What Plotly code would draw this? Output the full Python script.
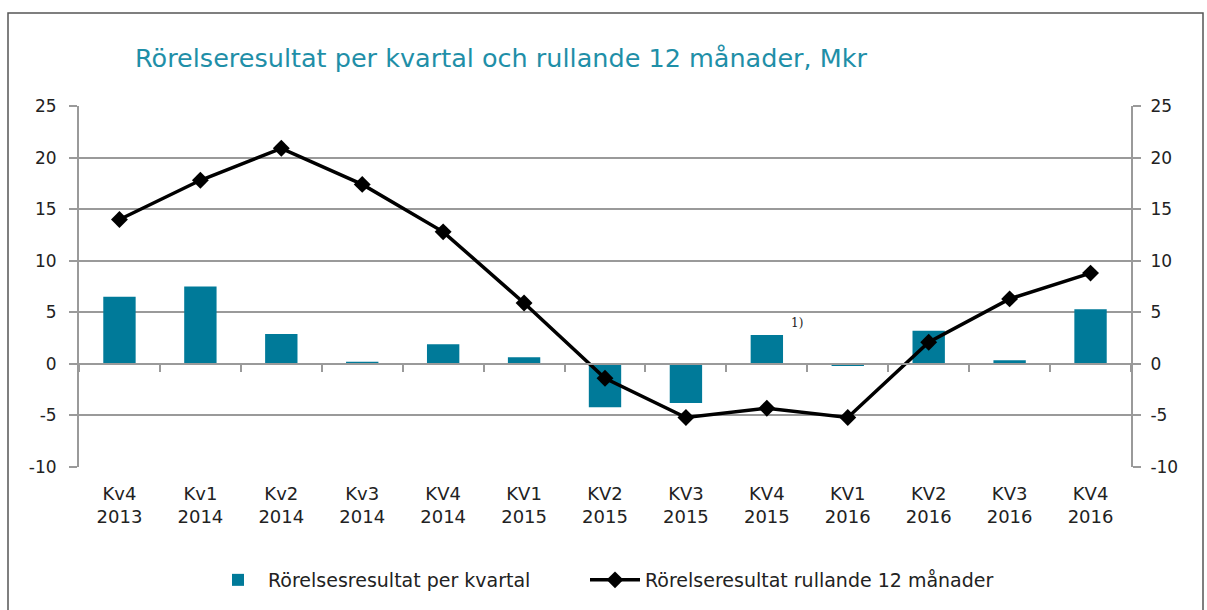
import plotly.graph_objects as go

categories = ["Kv4<br>2013", "Kv1<br>2014", "Kv2<br>2014", "Kv3<br>2014", "KV4<br>2014",
              "KV1<br>2015", "KV2<br>2015", "KV3<br>2015", "KV4<br>2015", "KV1<br>2016",
              "KV2<br>2016", "KV3<br>2016", "KV4<br>2016"]
kvartal = [6.5, 7.5, 2.9, 0.2, 1.9, 0.65, -4.2, -3.8, 2.8, -0.2, 3.2, 0.35, 5.3]
rullande = [14.0, 17.8, 20.9, 17.4, 12.8, 5.9, -1.4, -5.2, -4.3, -5.2, 2.1, 6.3, 8.8]
y_ticks = [-10, -5, 0, 5, 10, 15, 20, 25]
y_ticktext = [str(v) for v in y_ticks]

title_text = "Rörelseresultat per kvartal och rullande 12 månader, Mkr"
bar_name = "Rörelsesresultat per kvartal"
line_name = "Rörelseresultat rullande 12 månader"

FONT = "DejaVu Sans"
TEAL = "#007A99"
GRID = "#9a9a9a"

fig = go.Figure()
fig.add_trace(go.Bar(x=categories, y=kvartal, name=bar_name, marker_color=TEAL,
                     marker_line_width=0, width=0.4, xaxis="x", yaxis="y", legend="legend"))
fig.add_trace(go.Scatter(x=categories, y=rullande, name=line_name, mode="lines+markers",
                         line=dict(color="black", width=3.5),
                         marker=dict(symbol="diamond", size=13, color="black"),
                         xaxis="x2", yaxis="y2", legend="legend2"))

yr = [-10, 25]
legend_common = dict(orientation="h", xanchor="left", xref="container",
                     y=1 - 580 / 610, yref="container", yanchor="middle",
                     font=dict(size=19, color="#222222"), itemwidth=50)
fig.update_layout(
    width=1207, height=610,
    margin=dict(l=79, r=76, t=106, b=143),
    paper_bgcolor="white", plot_bgcolor="white",
    font=dict(family=FONT, size=16, color="#222222"),
    title=dict(text=title_text, x=135 / 1207, xanchor="left", y=1 - 58 / 610, yanchor="middle",
               font=dict(family=FONT, size=25.5, color="#1F8FA8")),
    showlegend=True,
    legend=dict(x=208 / 1207, **legend_common),
    legend2=dict(x=585 / 1207, **legend_common),
    bargap=0.6,
    xaxis=dict(type="category", categoryorder="array", categoryarray=categories,
               range=[-0.5, 12.5], showline=False, ticks="", showgrid=False,
               tickfont=dict(size=18), ticklabelstandoff=14),
    xaxis2=dict(type="category", categoryorder="array", categoryarray=categories,
                matches="x", overlaying="x", anchor="free", position=10 / 35,
                showline=True, linecolor=GRID, linewidth=2, ticks="outside",
                tickson="boundaries", ticklen=7, tickcolor=GRID, tickwidth=2,
                showticklabels=False, showgrid=False),
    yaxis=dict(range=yr, tickvals=y_ticks, ticktext=y_ticktext, showline=True, linecolor=GRID, linewidth=2,
               ticks="outside", ticklen=8, tickcolor=GRID, tickwidth=2,
               showgrid=True, gridcolor=GRID, gridwidth=2, zeroline=False,
               tickfont=dict(size=17), ticklabelstandoff=9),
    yaxis2=dict(range=yr, tickvals=y_ticks, ticktext=y_ticktext, overlaying="y", side="right", anchor="x",
                showline=True, linecolor=GRID, linewidth=2,
                ticks="outside", ticklen=8, tickcolor=GRID, tickwidth=2,
                showgrid=False, zeroline=False, tickfont=dict(size=17), ticklabelstandoff=6),
    shapes=[dict(type="rect", xref="paper", yref="paper",
                 x0=(8 - 79) / 1052, x1=(1203 - 79) / 1052,
                 y0=(467 - 640) / 361, y1=(467 - 13) / 361,
                 line=dict(color="#555555", width=1.5), fillcolor="rgba(0,0,0,0)", layer="below")],
    annotations=[dict(x=categories[8], y=kvartal[8], xref="x", yref="y", text="1)",
                      showarrow=False, xshift=30, yshift=12,
                      font=dict(family="DejaVu Serif", size=12, color="#222222"))],
)

fig.write_html("out.html", config={"displayModeBar": False},
               post_script="document.body.style.margin='0';document.body.style.overflow='hidden';")
